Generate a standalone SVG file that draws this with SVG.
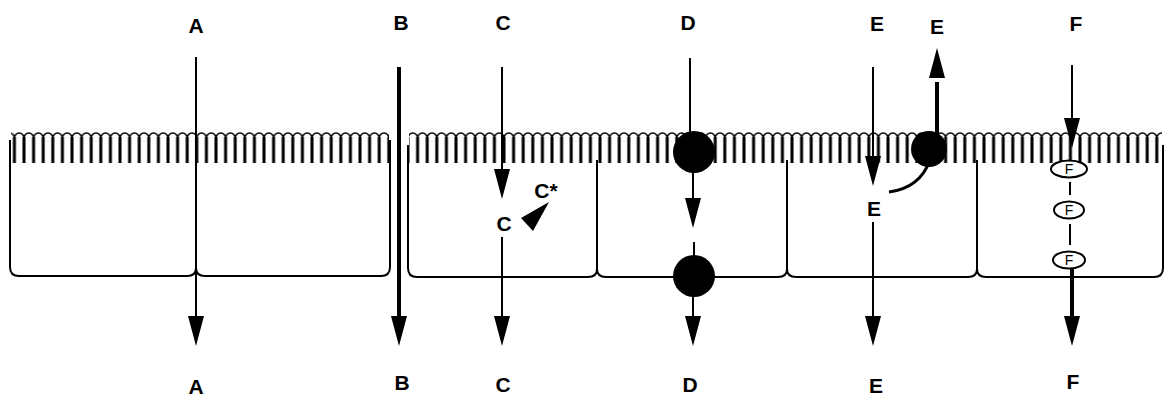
<svg xmlns="http://www.w3.org/2000/svg" xmlns:xlink="http://www.w3.org/1999/xlink" width="1168" height="403" viewBox="0 0 1168 403">
  <style>
    .lbl { font-family: "Liberation Sans", Arial, sans-serif; font-weight: bold; font-size: 21px; fill: #000; text-anchor: middle; }
    .cell { fill: none; stroke: #000; stroke-width: 2; }
    .ln { stroke: #000; stroke-width: 2; fill: none; }
    .thick { stroke: #000; stroke-width: 4; fill: none; }
    .blob { fill: #000; }
    .vesicle { fill: #fff; stroke: #000; stroke-width: 2; }
    .vt { font-family: "Liberation Sans", Arial, sans-serif; font-size: 14px; fill: #000; text-anchor: middle; }
  </style>
  <defs>
    <!-- brush border: one microvillus per tile -->
    <pattern id="villi" patternUnits="userSpaceOnUse" x="0" y="131" width="9.6" height="32">
      <path d="M-4.8 7 A4.8 5 0 0 1 4.8 7 A4.8 5 0 0 1 14.4 7" fill="none" stroke="#000" stroke-width="1.5"/>
      <line x1="4.8" y1="6" x2="4.8" y2="32" stroke="#000" stroke-width="3"/>
    </pattern>
    <path id="headDown" d="M0 0 L-8 -30 L8 -30 Z" fill="#000"/>
  </defs>

  <rect width="1168" height="403" fill="#fff"/>

  <!-- left epithelial block -->
  <g id="cells-left">
    <rect x="11" y="131" width="378" height="32" fill="url(#villi)"/>
    <path class="cell" d="M10 140 V267 Q10 276 19 276 H187 Q196 276 196 268 Q196 276 205 276 H381 Q390 276 390 267 V140"/>
    <line class="cell" x1="196" y1="163" x2="196" y2="268"/>
  </g>

  <!-- right epithelial block -->
  <g id="cells-right">
    <rect x="409" y="131" width="753" height="32" fill="url(#villi)"/>
    <path class="cell" d="M408 145 V268 Q408 277 417 277 H588 Q597 277 597 269 Q597 277 606 277 H778 Q787 277 787 269 Q787 277 796 277 H968 Q977 277 977 269 Q977 277 986 277 H1154 Q1163 277 1163 268 V145"/>
    <line class="cell" x1="597" y1="160" x2="597" y2="269"/>
    <line class="cell" x1="787" y1="160" x2="787" y2="269"/>
    <line class="cell" x1="977" y1="160" x2="977" y2="269"/>
  </g>

  <!-- route A -->
  <g id="route-A">
    <text class="lbl" x="196" y="33">A</text>
    <line class="ln" x1="196" y1="57" x2="196" y2="318"/>
    <use xlink:href="#headDown" x="196" y="346"/>
    <text class="lbl" x="196" y="394">A</text>
  </g>

  <!-- route B -->
  <g id="route-B">
    <text class="lbl" x="401" y="30">B</text>
    <line class="thick" x1="399" y1="67" x2="399" y2="318"/>
    <use xlink:href="#headDown" x="399" y="346"/>
    <text class="lbl" x="402" y="390">B</text>
  </g>

  <!-- route C -->
  <g id="route-C">
    <text class="lbl" x="503" y="30">C</text>
    <text class="lbl" x="503" y="392">C</text>
    <text class="lbl" x="504" y="231">C</text>
    <text class="lbl" x="546" y="198">C*</text>
    <polygon class="blob" points="521,218 549,202 533,231"/>
  </g>

  <!-- route D -->
  <g id="route-D">
    <text class="lbl" x="688" y="30">D</text>
    <circle class="blob" cx="694" cy="152" r="21"/>
    <circle class="blob" cx="694" cy="276" r="21"/>
    <text class="lbl" x="690" y="392">D</text>
  </g>

  <!-- route E -->
  <g id="route-E">
    <text class="lbl" x="877" y="31">E</text>
    <text class="lbl" x="937" y="34">E</text>
    <text class="lbl" x="874" y="216">E</text>
    <circle class="blob" cx="929" cy="149" r="18"/>
    <text class="lbl" x="876" y="393">E</text>
  </g>

  <!-- route F -->
  <g id="route-F">
    <text class="lbl" x="1076" y="31">F</text>
    <ellipse class="vesicle" cx="1069" cy="169" rx="18" ry="8.5"/>
    <ellipse class="vesicle" cx="1069" cy="210" rx="15" ry="8.5"/>
    <ellipse class="vesicle" cx="1069" cy="260" rx="16" ry="8.5"/>
    <text class="vt" x="1069" y="174">F</text>
    <text class="vt" x="1069" y="215">F</text>
    <text class="vt" x="1069" y="265">F</text>
    <text class="lbl" x="1073" y="389">F</text>
  </g>

  <!-- connectors -->
  <g id="connectors">
    <!-- C -->
    <line class="ln" x1="502" y1="67" x2="502" y2="170"/>
    <use xlink:href="#headDown" x="502" y="199"/>
    <line class="ln" x1="502" y1="237" x2="502" y2="318"/>
    <use xlink:href="#headDown" x="502" y="346"/>
    <!-- D -->
    <line class="ln" x1="690" y1="58" x2="690" y2="135"/>
    <line class="ln" x1="693" y1="170" x2="693" y2="200"/>
    <use xlink:href="#headDown" x="693" y="228"/>
    <line class="ln" x1="694" y1="242" x2="694" y2="258"/>
    <line class="ln" x1="693" y1="295" x2="693" y2="318"/>
    <use xlink:href="#headDown" x="693" y="346"/>
    <!-- E -->
    <line class="ln" x1="873" y1="67" x2="873" y2="158"/>
    <use xlink:href="#headDown" x="873" y="186"/>
    <line class="ln" x1="873" y1="222" x2="873" y2="318"/>
    <use xlink:href="#headDown" x="873" y="346"/>
    <path d="M889 192 Q920 188 930 160" fill="none" stroke="#000" stroke-width="3"/>
    <line class="thick" x1="937" y1="135" x2="937" y2="82"/>
    <use xlink:href="#headDown" transform="translate(937 48) rotate(180)"/>
    <!-- F -->
    <line class="ln" x1="1072" y1="65" x2="1072" y2="120"/>
    <use xlink:href="#headDown" x="1072" y="148"/>
    <line class="ln" x1="1070" y1="182" x2="1070" y2="195"/>
    <line class="ln" x1="1070" y1="224" x2="1070" y2="245"/>
    <line class="thick" x1="1072" y1="269" x2="1072" y2="316"/>
    <use xlink:href="#headDown" x="1072" y="346"/>
  </g>
</svg>
